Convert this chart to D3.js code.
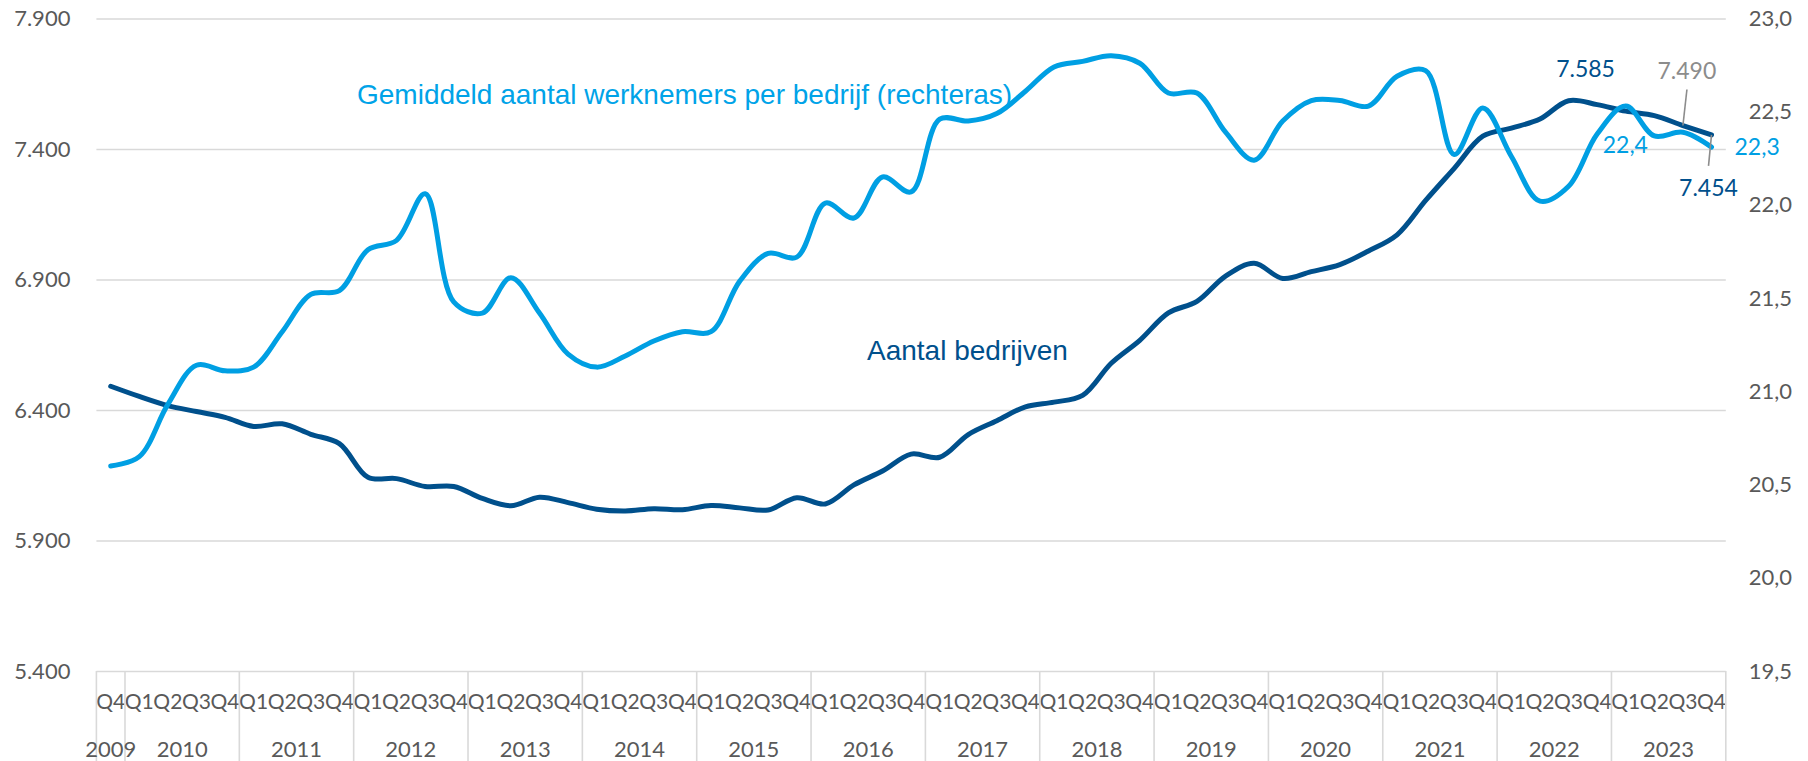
<!DOCTYPE html>
<html>
<head>
<meta charset="utf-8">
<script src="https://cdn.jsdelivr.net/npm/d3@7"></script>
<style>
  body { margin: 0; background: #fff; }
  text { font-family: Lato, "Open Sans", sans-serif; }
</style>
</head>
<body>
<svg id="chart" width="1808" height="761"></svg>
<script>
// Q4 2009 .. Q4 2023
var quarterLabels = ["Q4",
  "Q1","Q2","Q3","Q4", "Q1","Q2","Q3","Q4", "Q1","Q2","Q3","Q4", "Q1","Q2","Q3","Q4",
  "Q1","Q2","Q3","Q4", "Q1","Q2","Q3","Q4", "Q1","Q2","Q3","Q4", "Q1","Q2","Q3","Q4",
  "Q1","Q2","Q3","Q4", "Q1","Q2","Q3","Q4", "Q1","Q2","Q3","Q4", "Q1","Q2","Q3","Q4",
  "Q1","Q2","Q3","Q4", "Q1","Q2","Q3","Q4"]
var yearLabels = ["2009","2010","2011","2012","2013","2014","2015","2016",
  "2017","2018","2019","2020","2021","2022","2023"]
var quartersPerYear = [1,4,4,4,4,4,4,4,4,4,4,4,4,4,4]

// left axis
var aantalBedrijven = [6491,
  6452, 6417, 6394, 6372,   6337, 6347, 6307, 6271,   6142, 6137, 6107, 6107,
  6061, 6033, 6066, 6045,   6020, 6013, 6022, 6018,   6034, 6025, 6017, 6064,
  6040, 6113, 6166, 6231,   6219, 6306, 6359, 6412,   6430, 6456, 6579, 6667,
  6772, 6816, 6913, 6962,   6904, 6930, 6957, 7009,   7071, 7203, 7326, 7449,
  7480, 7515, 7585, 7570,   7545, 7528, 7490, 7454]
// right axis
var gemiddeldWerknemers = [20.60,
  20.65, 20.93, 21.14, 21.11,   21.13, 21.32, 21.52, 21.54,   21.76, 21.81, 22.06, 21.48,
  21.42, 21.61, 21.42, 21.20,   21.13, 21.19, 21.27, 21.32,   21.32, 21.59, 21.74, 21.72,
  22.01, 21.93, 22.15, 22.07,   22.46, 22.45, 22.49, 22.61,   22.74, 22.77, 22.80, 22.76,
  22.60, 22.60, 22.39, 22.24,   22.45, 22.56, 22.56, 22.53,   22.69, 22.72, 22.27, 22.52,
  22.26, 22.02, 22.10, 22.38,   22.53, 22.37, 22.39, 22.31]

var leftTicks = [5400, 5900, 6400, 6900, 7400, 7900]
var rightTicks = [19.5, 20.0, 20.5, 21.0, 21.5, 22.0, 22.5, 23.0]

var seriesNames = ["Gemiddeld aantal werknemers per bedrijf (rechteras)", "Aantal bedrijven"]

var darkBlue = "#00508c",
    lightBlue = "#009fe3",
    grey = "#595959",
    gridGrey = "#d9d9d9"

var plot = {left: 96.4, right: 1725.8, top: 18.5, bottom: 671}

var nl = d3.formatLocale({decimal: ",", thousands: ".", grouping: [3], currency: ["€", ""]})
var fmtLeft = nl.format(",.0f"),
    fmtRight = nl.format(".1f")

var svg = d3.select("#chart")

var x = d3.scaleBand()
    .domain(d3.range(quarterLabels.length))
    .range([plot.left, plot.right])
    .padding(0)
var bw = x.bandwidth()
var cx = i => x(i) + bw / 2

var yL = d3.scaleLinear().domain([5400, 7900]).range([plot.bottom, plot.top])
var yR = d3.scaleLinear().domain([19.5, 23.0]).range([plot.bottom, plot.top])

// gridlines + left labels
var gl = svg.append("g")
    .attr("transform", "translate(" + plot.left + ",0)")
    .call(d3.axisLeft(yL).tickValues(leftTicks).tickSize(-(plot.right - plot.left)).tickPadding(26).tickFormat(fmtLeft))
gl.select(".domain").remove()
gl.selectAll(".tick line").attr("stroke", gridGrey).attr("stroke-width", 1.6)
gl.selectAll(".tick text").attr("fill", grey).style("font-size", "22px").style("font-family", "Lato")

// right labels
var gr = svg.append("g")
    .attr("transform", "translate(" + plot.right + ",0)")
    .call(d3.axisRight(yR).tickValues(rightTicks).tickSize(0).tickPadding(23).tickFormat(fmtRight))
gr.select(".domain").remove()
gr.selectAll(".tick text").attr("fill", grey).style("font-size", "22px").style("font-family", "Lato")

// category axis: quarter labels, years, separators
svg.append("g").selectAll("text")
    .data(quarterLabels)
    .enter().append("text")
    .attr("x", (d, i) => cx(i))
    .attr("y", 709)
    .attr("text-anchor", "middle")
    .attr("fill", grey)
    .style("font-size", "21px")
    .text(d => d)

var start = 0, bounds = [0]
var yearPos = yearLabels.map((yr, k) => {
    var s = start
    start += quartersPerYear[k]
    bounds.push(start)
    return (x(s) + x(start - 1) + bw) / 2
})

svg.append("g").selectAll("line")
    .data(bounds)
    .enter().append("line")
    .attr("x1", d => d < quarterLabels.length ? x(d) : plot.right)
    .attr("x2", d => d < quarterLabels.length ? x(d) : plot.right)
    .attr("y1", plot.bottom)
    .attr("y2", 761)
    .attr("stroke", gridGrey)
    .attr("stroke-width", 1.6)

svg.append("g").selectAll("text")
    .data(yearLabels)
    .enter().append("text")
    .attr("x", (d, k) => yearPos[k])
    .attr("y", 757)
    .attr("text-anchor", "middle")
    .attr("fill", grey)
    .style("font-size", "22px")
    .text(d => d)

// lines
var lineL = d3.line().x((d, i) => cx(i)).y(d => yL(d)).curve(d3.curveCatmullRom.alpha(0.5))
var lineR = d3.line().x((d, i) => cx(i)).y(d => yR(d)).curve(d3.curveCatmullRom.alpha(0.5))

svg.append("path")
    .datum(aantalBedrijven)
    .attr("d", lineL)
    .attr("fill", "none")
    .attr("stroke", darkBlue)
    .attr("stroke-width", 5)
    .attr("stroke-linejoin", "round")
    .attr("stroke-linecap", "round")

svg.append("path")
    .datum(gemiddeldWerknemers)
    .attr("d", lineR)
    .attr("fill", "none")
    .attr("stroke", lightBlue)
    .attr("stroke-width", 5)
    .attr("stroke-linejoin", "round")
    .attr("stroke-linecap", "round")

// series labels
svg.append("text")
    .attr("x", 357).attr("y", 104)
    .attr("fill", "#00a3e8")
    .style("font-family", "'Liberation Sans', Arial, sans-serif")
    .style("font-size", "28px")
    .text(seriesNames[0])

svg.append("text")
    .attr("x", 867).attr("y", 360)
    .attr("fill", darkBlue)
    .style("font-family", "'Liberation Sans', Arial, sans-serif")
    .style("font-size", "28px")
    .text(seriesNames[1])

// data labels
var n = quarterLabels.length
var labels = [
    {i: 51, v: aantalBedrijven[51], y: yL, f: fmtLeft, dx: 17, dy: -24, anchor: "middle", color: darkBlue},
    {i: 55, v: aantalBedrijven[55], y: yL, f: fmtLeft, dx: 4, dy: -47, anchor: "middle", color: "#8c8c8c", lead: [4, -36]},
    {i: n - 1, v: aantalBedrijven[n - 1], y: yL, f: fmtLeft, dx: -3, dy: 61, anchor: "middle", color: darkBlue, lead: [-3, 31]},
    {i: 54, v: gemiddeldWerknemers[54], y: yR, f: fmtRight, dx: -29, dy: 17, anchor: "middle", color: lightBlue},
    {i: n - 1, v: gemiddeldWerknemers[n - 1], y: yR, f: fmtRight, dx: 23, dy: 8, anchor: "start", color: lightBlue}
]

labels.forEach(l => {
    var px = cx(l.i), py = l.y(l.v)
    if (l.lead) {
        svg.append("line")
            .attr("x1", px).attr("y1", py)
            .attr("x2", px + l.lead[0]).attr("y2", py + l.lead[1])
            .attr("stroke", "#8c8c8c")
            .attr("stroke-width", 1.6)
    }
    svg.append("text")
        .attr("x", px + l.dx)
        .attr("y", py + l.dy)
        .attr("text-anchor", l.anchor)
        .attr("fill", l.color)
        .style("font-size", "23px")
        .text(l.f(l.v))
})
</script>
</body>
</html>
